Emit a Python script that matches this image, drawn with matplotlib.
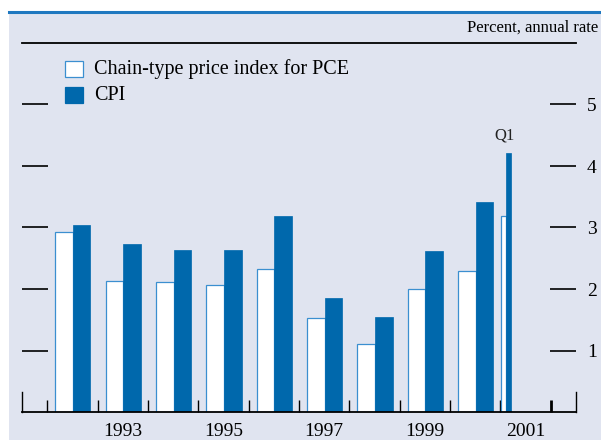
import matplotlib
matplotlib.use("Agg")
import matplotlib.pyplot as plt
from matplotlib.patches import Rectangle
import numpy as np

plt.rcParams['font.family'] = ['Liberation Serif', 'DejaVu Serif']

# annual data, Q4/Q4
years = [1992, 1993, 1994, 1995, 1996, 1997, 1998, 1999, 2000]
pce = [2.92, 2.13, 2.11, 2.07, 2.32, 1.53, 1.11, 2.00, 2.30]
cpi = [3.04, 2.73, 2.63, 2.63, 3.18, 1.86, 1.54, 2.61, 3.42]

# 2001 Q1, annual rate
q1_year = 2001
pce_q1 = 3.18
cpi_q1 = 4.21

year_labels = ["1993", "1995", "1997", "1999", "2001"]
y_ticks = [1, 2, 3, 4, 5]

BLUE = "#0068ac"
EDGE = "#3b8fd0"
BG = "#e0e4f0"

fig = plt.figure(figsize=(6.01, 4.40), dpi=100)
fig.patch.set_facecolor("white")

# panel background and top rule
bg = Rectangle((9 / 601, 0), 1, 1 - 12 / 440, transform=fig.transFigure,
               facecolor=BG, edgecolor="none", zorder=-10)
fig.add_artist(bg)
fig.add_artist(plt.Line2D([9 / 601, 1], [1 - 12 / 440, 1 - 12 / 440], transform=fig.transFigure,
                          color="#1f78c0", linewidth=2.2, zorder=-5))

ax = fig.add_axes([22 / 601, 28 / 440, 554 / 601, 369 / 440])
ax.set_facecolor("none")
ax.set_zorder(5)

x = np.array(years) + 0.51
w = 0.35
ax.bar(x - w / 2, pce, width=w, color="white", edgecolor=EDGE, linewidth=0.9, zorder=2)
ax.bar(x + w / 2, cpi, width=w, color=BLUE, edgecolor=BLUE, linewidth=0.5, zorder=2)

# first quarter bars, narrow
qw = 0.095
qx = q1_year + 0.115
ax.bar(qx - qw / 2, pce_q1, width=qw, color="white", edgecolor=EDGE, linewidth=0.9, zorder=2)
ax.bar(qx + qw / 2, cpi_q1, width=qw, color=BLUE, edgecolor=BLUE, linewidth=0.5, zorder=2)
ax.annotate("Q1", xy=(qx, cpi_q1), xytext=(-1, 7), textcoords="offset points",
            ha="center", va="bottom", fontsize=12, color="#222222")

ax.set_xlim(1991.5, 2002.5)
ax.set_ylim(0, 6)

for s in ["left", "right"]:
    ax.spines[s].set_bounds(0, 0.33)
    ax.spines[s].set_linewidth(1.0)
ax.spines["top"].set_linewidth(1.3)
ax.spines["bottom"].set_linewidth(1.3)

ax.set_yticks(y_ticks)
ax.tick_params(axis="y", direction="in", length=18.7, width=1.2, left=True, right=True,
               labelleft=False, labelright=True, labelsize=14, pad=8)

ax.set_xticks(range(1992, 2003))
ax.set_xticklabels([])
ax.set_xticks([int(t) + 0.5 for t in year_labels], minor=True)
ax.set_xticklabels(year_labels, minor=True)
ax.tick_params(axis="x", which="major", direction="in", length=8.6, width=1.0)
ax.tick_params(axis="x", which="minor", length=0, labelsize=14, pad=8)
# the 2002 boundary tick is heavier
ax.xaxis.get_major_ticks()[-1].tick1line.set_markeredgewidth(2.0)

fig.text(0.995, 1 - 28 / 440, "Percent, annual rate", ha="right", va="center", fontsize=12)

# legend
for i, (lab, fc) in enumerate([("Chain-type price index for PCE", "white"), ("CPI", BLUE)]):
    top = 61 + 26 * i
    fig.add_artist(Rectangle((65 / 601, 1 - (top + 16) / 440), 18 / 601, 16 / 440,
                             transform=fig.transFigure, facecolor=fc,
                             edgecolor=EDGE if fc == "white" else BLUE, linewidth=0.9))
    fig.text(94 / 601, 1 - (top + 8) / 440, lab, ha="left", va="center", fontsize=14.5)

fig.savefig("out.png", dpi=100)
